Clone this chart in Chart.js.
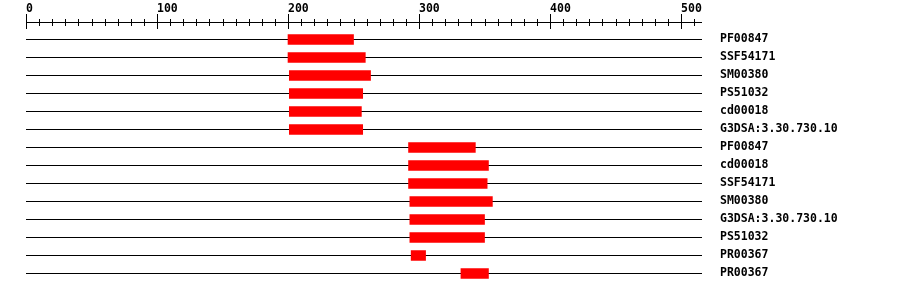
<!DOCTYPE html>
<html>
<head>
<meta charset="utf-8">
<script src="https://cdn.jsdelivr.net/npm/chart.js@4"></script>
<style>
  body { margin: 0; background: #fff; }
</style>
</head>
<body>
<canvas id="domains" width="900" height="292"></canvas>
<script>
// domain hits, one row each, top to bottom
var domainNames = ['PF00847', 'SSF54171', 'SM00380', 'PS51032', 'cd00018', 'G3DSA:3.30.730.10',
	'PF00847', 'cd00018', 'SSF54171', 'SM00380', 'G3DSA:3.30.730.10', 'PS51032', 'PR00367', 'PR00367'];
var domainStart = [200, 200, 201, 201, 201, 201, 292, 292, 292, 293, 293, 293, 294, 332];
var domainEnd = [250, 259, 263, 257, 256, 257, 343, 353, 352, 356, 350, 350, 305, 353];

var seqLength = 516;
var rulerLabels = [0, 100, 200, 300, 400, 500];
var rulerStep = 10;

var monoFont = { family: "'DejaVu Sans Mono', monospace", size: 11.5, weight: 'bold' };

// ruler along the top, drawn on the x scale
var rulerPlugin = {
	id: 'ruler',
	afterDraw: function(chart) {
		var ctx = chart.ctx;
		var xs = chart.scales.x;
		var y = 22.5;
		ctx.save();
		ctx.strokeStyle = '#000';
		ctx.lineWidth = 1;
		ctx.beginPath();
		ctx.moveTo(Math.round(xs.getPixelForValue(0)), y);
		ctx.lineTo(chart.chartArea.right, y);
		for (var v = 0; v <= seqLength; v += rulerStep) {
			var px = Math.round(xs.getPixelForValue(v)) + 0.5;
			if (rulerLabels.indexOf(v) >= 0) {
				ctx.moveTo(px, 14);
				ctx.lineTo(px, 29);
			} else {
				ctx.moveTo(px, 19);
				ctx.lineTo(px, 26);
			}
		}
		ctx.stroke();
		ctx.restore();
	}
};

window.onload = function() {
	var ctx = document.getElementById('domains').getContext('2d');
	window.domainChart = new Chart(ctx, {
		type: 'bar',
		data: {
			labels: domainNames,
			datasets: [{
				data: domainStart.map(function(s, i) { return [s, domainEnd[i]]; }),
				backgroundColor: '#ff0000',
				borderWidth: 0,
				borderSkipped: false,
				barThickness: 10
			}]
		},
		options: {
			indexAxis: 'y',
			responsive: false,
			animation: false,
			layout: { padding: { left: 26, top: 0, right: 0, bottom: 9.5 } },
			plugins: {
				legend: { display: false },
				tooltip: { enabled: false }
			},
			scales: {
				x: {
					type: 'linear',
					position: 'top',
					min: 0,
					max: seqLength,
					afterFit: function(s) { s.height = 30.5; },
					grid: { display: false, drawTicks: false },
					border: { display: false },
					ticks: {
						stepSize: 100,
						includeBounds: false,
						align: 'start',
						maxRotation: 0,
						minRotation: 0,
						autoSkip: false,
						padding: 15,
						color: '#000',
						font: monoFont,
						callback: function(v) { return rulerLabels.indexOf(v) >= 0 ? String(v) : null; }
					}
				},
				y: {
					position: 'right',
					afterFit: function(s) {
						s.width = 198;
						s.paddingTop = 0;
						s.paddingBottom = 0;
					},
					grid: { offset: false, color: '#000', lineWidth: 1, drawTicks: false },
					border: { display: false },
					ticks: {
						autoSkip: false,
						padding: 18,
						color: '#000',
						font: monoFont
					}
				}
			}
		},
		plugins: [rulerPlugin]
	});
};
</script>
</body>
</html>
